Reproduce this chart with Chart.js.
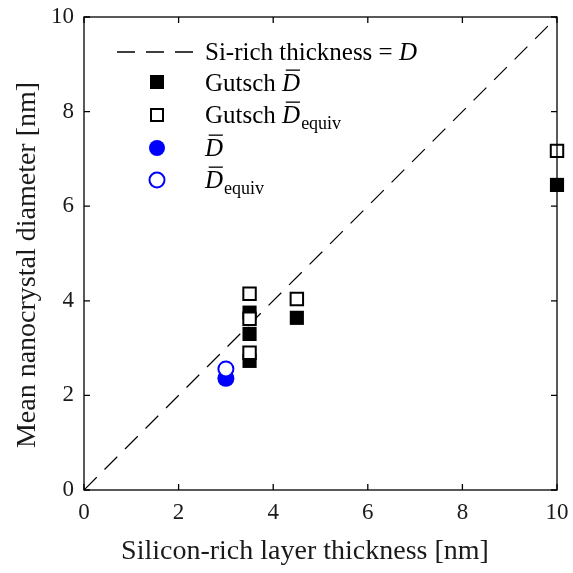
<!DOCTYPE html>
<html lang="en">
  <head>
    <meta charset="UTF-8" />
    <title>Nanocrystal diameter</title>
    <style>
      html, body { margin: 0; padding: 0; background: #fff; }
      #wrap { width: 573px; height: 573px; }
    </style>
  </head>
  <body>
    <div id="wrap"><canvas id="chart" width="573" height="573"></canvas></div>
    <script src="https://cdn.jsdelivr.net/npm/chart.js@4/dist/chart.umd.min.js"></script>
    <script>
      // data
      var lineX = [0, 10];
      var lineY = [0, 10];
      var gutschX = [3.5, 3.5, 3.5, 4.5, 10];
      var gutschD = [3.75, 3.3, 2.73, 3.64, 6.45];
      var gutschDequiv = [4.15, 3.62, 2.9, 4.04, 7.17];
      var ownX = [3];
      var ownD = [2.36];
      var ownDequiv = [2.56];
      var tickVals = [0, 2, 4, 6, 8, 10];

      var SERIF = '"Liberation Serif", "DejaVu Serif", serif';

      function pts(xs, ys) {
        return xs.map(function (x, i) { return { x: x, y: ys[i] }; });
      }

      // D with a bar, optional subscript
      function drawDbar(ctx, x, y, size, sub) {
        ctx.font = 'italic ' + size + 'px ' + SERIF;
        ctx.textBaseline = 'alphabetic';
        ctx.textAlign = 'left';
        ctx.fillText('D', x, y);
        var w = ctx.measureText('D').width;
        ctx.fillRect(x + size * 0.15, y - size * 0.86, w * 0.78, 1.3);
        var end = x + w;
        if (sub) {
          var s = Math.round(size * 0.72);
          ctx.font = s + 'px ' + SERIF;
          ctx.fillText(sub, end + 1, y + size * 0.22);
          end += ctx.measureText(sub).width + 1;
        }
        return end;
      }

      var framePlugin = {
        id: 'frame',
        afterDraw: function (chart) {
          var ctx = chart.ctx;
          var a = chart.chartArea;
          var xs = chart.scales.x, ys = chart.scales.y;
          ctx.save();
          ctx.strokeStyle = '#000';
          ctx.lineWidth = 1.3;
          ctx.strokeRect(a.left, a.top, a.right - a.left, a.bottom - a.top);
          ctx.beginPath();
          tickVals.forEach(function (v) {
            var px = xs.getPixelForValue(v);
            ctx.moveTo(px, a.bottom); ctx.lineTo(px, a.bottom - 6);
            ctx.moveTo(px, a.top); ctx.lineTo(px, a.top + 6);
            var py = ys.getPixelForValue(v);
            ctx.moveTo(a.left, py); ctx.lineTo(a.left + 6, py);
            ctx.moveTo(a.right, py); ctx.lineTo(a.right - 6, py);
          });
          ctx.stroke();

          // tick labels
          ctx.fillStyle = '#1a1a1a';
          ctx.font = '23px ' + SERIF;
          ctx.textAlign = 'center';
          ctx.textBaseline = 'middle';
          tickVals.forEach(function (v) {
            ctx.fillText(String(v), xs.getPixelForValue(v), a.bottom + 23);
          });
          ctx.textAlign = 'right';
          tickVals.forEach(function (v) {
            ctx.fillText(String(v), a.left - 10, ys.getPixelForValue(v));
          });

          // axis titles
          ctx.font = '28px ' + SERIF;
          ctx.textAlign = 'center';
          ctx.fillText('Silicon-rich layer thickness [nm]', 305, 552);
          ctx.save();
          ctx.translate(28, 265);
          ctx.rotate(-Math.PI / 2);
          ctx.fillText('Mean nanocrystal diameter [nm]', 0, 0);
          ctx.restore();

          // legend
          var lx = 157, tx = 205, fs = 25;
          ctx.fillStyle = '#000';
          ctx.strokeStyle = '#000';
          ctx.lineWidth = 1.3;
          ctx.setLineDash([18, 11]);
          ctx.beginPath();
          ctx.moveTo(117, 52); ctx.lineTo(195, 52);
          ctx.stroke();
          ctx.setLineDash([]);
          ctx.font = fs + 'px ' + SERIF;
          ctx.textAlign = 'left';
          ctx.textBaseline = 'alphabetic';
          var t = 'Si-rich thickness = ';
          ctx.fillText(t, tx, 60);
          var tw = ctx.measureText(t).width;
          ctx.font = 'italic ' + fs + 'px ' + SERIF;
          ctx.fillText('D', tx + tw, 60);

          // Gutsch D
          ctx.fillRect(lx - 7, 82 - 7, 14, 14);
          ctx.font = fs + 'px ' + SERIF;
          ctx.fillText('Gutsch ', tx, 91);
          var gw = ctx.measureText('Gutsch ').width;
          drawDbar(ctx, tx + gw, 91, fs);
          // Gutsch D equiv
          ctx.fillStyle = '#fff';
          ctx.fillRect(lx - 6, 115 - 6, 12, 12);
          ctx.lineWidth = 2;
          ctx.strokeRect(lx - 6, 115 - 6, 12, 12);
          ctx.fillStyle = '#000';
          ctx.font = fs + 'px ' + SERIF;
          ctx.fillText('Gutsch ', tx, 123);
          drawDbar(ctx, tx + gw, 123, fs, 'equiv');
          // own D
          ctx.fillStyle = '#0000ff';
          ctx.beginPath();
          ctx.arc(lx, 148, 8, 0, Math.PI * 2);
          ctx.fill();
          ctx.fillStyle = '#000';
          drawDbar(ctx, tx, 156, fs);
          // own D equiv
          ctx.strokeStyle = '#0000ff';
          ctx.lineWidth = 2;
          ctx.beginPath();
          ctx.arc(lx, 180, 7.5, 0, Math.PI * 2);
          ctx.stroke();
          ctx.fillStyle = '#000';
          drawDbar(ctx, tx, 188, fs, 'equiv');
          ctx.restore();
        }
      };

      new Chart(document.getElementById('chart'), {
        type: 'scatter',
        data: {
          datasets: [
            {
              type: 'line',
              label: 'Si-rich thickness = D',
              data: pts(lineX, lineY),
              borderColor: '#000',
              borderWidth: 1.2,
              borderDash: [18, 11],
              pointRadius: 0,
              fill: false,
              order: 5,
            },
            {
              label: 'Gutsch D',
              data: pts(gutschX, gutschD),
              pointStyle: 'rect',
              pointRadius: 10,
              backgroundColor: '#000',
              borderColor: '#000',
              borderWidth: 0,
              clip: false,
              order: 4,
            },
            {
              label: 'Gutsch D equiv',
              data: pts(gutschX, gutschDequiv),
              pointStyle: 'rect',
              pointRadius: 8.8,
              backgroundColor: '#fff',
              borderColor: '#000',
              borderWidth: 2,
              clip: false,
              order: 3,
            },
            {
              label: 'D',
              data: pts(ownX, ownD),
              pointStyle: 'circle',
              pointRadius: 8.5,
              backgroundColor: '#0000ff',
              borderColor: '#0000ff',
              borderWidth: 0,
              clip: false,
              order: 2,
            },
            {
              label: 'D equiv',
              data: pts(ownX, ownDequiv),
              pointStyle: 'circle',
              pointRadius: 7.5,
              backgroundColor: '#fff',
              borderColor: '#0000ff',
              borderWidth: 2,
              clip: false,
              order: 1,
            },
          ],
        },
        options: {
          responsive: false,
          animation: false,
          layout: { padding: { top: 17, right: 16, left: 0, bottom: 0 } },
          plugins: { legend: { display: false }, tooltip: { enabled: false } },
          scales: {
            x: {
              type: 'linear',
              min: 0,
              max: 10,
              afterFit: function (s) { s.height = 83; },
              grid: { display: false, drawTicks: false },
              border: { display: false },
              ticks: { display: false, stepSize: 2 },
            },
            y: {
              type: 'linear',
              min: 0,
              max: 10,
              afterFit: function (s) { s.width = 84; },
              grid: { display: false, drawTicks: false },
              border: { display: false },
              ticks: { display: false, stepSize: 2 },
            },
          },
        },
        plugins: [framePlugin],
      });
    </script>
  </body>
</html>
